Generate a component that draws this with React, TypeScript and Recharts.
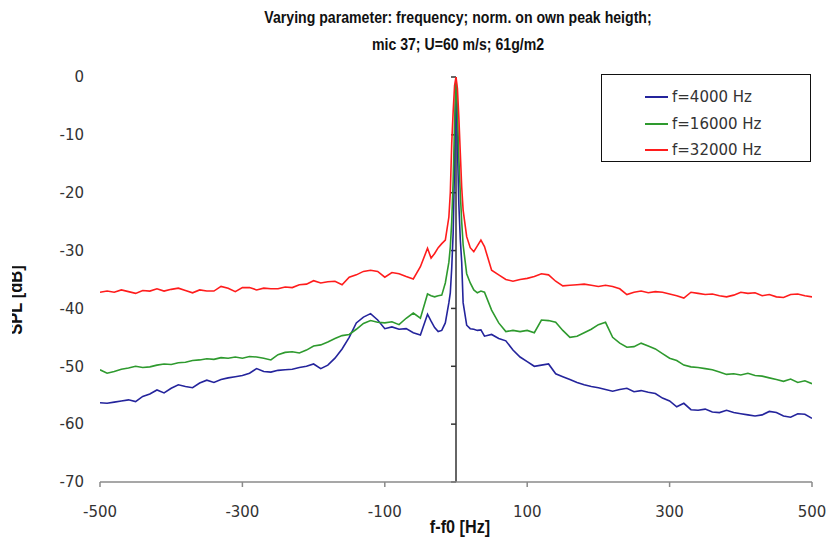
import React from "react";
import { LineChart, Line, XAxis, YAxis, ReferenceLine } from "recharts";

const freq = [
  -500, -490, -480, -470, -460, -450, -440, -430, -420, -410,
  -400, -390, -380, -370, -360, -350, -340, -330, -320, -310,
  -300, -290, -280, -270, -260, -250, -240, -230, -220, -210,
  -200, -190, -180, -170, -160, -150, -140, -130, -120, -110,
  -100, -90, -80, -70, -60, -50, -40,
  -35, -30, -25, -20, -15, -10, -8, -6, -4, -2, 0, 2, 4, 6, 8, 10, 15, 20, 25, 30, 35, 40,
  50, 60, 70, 80, 90, 100, 110, 120, 130, 140,
  150, 160, 170, 180, 190, 200, 210, 220, 230, 240,
  250, 260, 270, 280, 290, 300, 310, 320, 330, 340,
  350, 360, 370, 380, 390, 400, 410, 420, 430, 440,
  450, 460, 470, 480, 490, 500,
];

const f4000 = [
  -56.3, -56.4, -56.2, -56.0, -55.8, -56.1, -55.2, -54.8, -54.1, -54.6,
  -53.8, -53.2, -53.5, -53.7, -52.9, -52.4, -52.8, -52.3, -52.0, -51.8,
  -51.6, -51.2, -50.4, -50.9, -51.0, -50.7, -50.6, -50.5, -50.2, -50.0,
  -49.6, -50.4, -49.8, -48.6, -47.0, -45.0, -42.5, -41.5, -40.9, -42.0,
  -43.5, -43.2, -43.6, -43.5, -44.2, -44.6, -41.0,
  -42.2, -43.3, -44.0, -43.8, -42.5, -39.0, -37.3, -33, -27, -15, 0, -12, -22, -28, -32, -39, -42.9, -43.5, -43.6, -43.8, -43.7, -44.8,
  -44.5, -45.2, -45.6, -47.2, -48.4, -49.2, -50.0, -49.8, -49.6, -51.3,
  -51.8, -52.3, -52.8, -53.2, -53.5, -53.7, -54.0, -54.3, -54.0, -53.8,
  -54.4, -54.2, -54.5, -54.7, -55.5, -56.0, -57.0, -56.4, -57.5, -57.6,
  -57.4, -57.9, -58.0, -57.6, -58.0, -58.2, -58.4, -58.6, -58.4, -57.8,
  -58.0, -58.6, -58.8, -58.2, -58.3, -59.0,
];

const f16000 = [
  -50.6, -51.2, -50.9, -50.5, -50.3, -50.0, -50.2, -50.1, -49.8, -49.6,
  -49.7, -49.4, -49.3, -49.0, -48.9, -48.7, -48.8, -48.5, -48.6, -48.4,
  -48.6, -48.3, -48.4, -48.6, -48.9, -48.0, -47.6, -47.5, -47.7, -47.2,
  -46.5, -46.3, -45.8, -45.2, -44.7, -44.5, -43.6, -42.6, -42.1, -42.4,
  -42.5, -42.3, -42.8, -41.7, -40.8, -41.7, -37.5,
  -37.8, -38.0, -37.8, -37.7, -35.6, -32, -29.4, -25, -18, -8, 0, -6, -14, -20, -25, -29, -34, -35.6, -36.8, -37.3, -37.0, -37.2,
  -40.3, -42.5, -44.0, -43.8, -44.0, -43.8, -44.2, -42.0, -42.1, -42.4,
  -43.8, -45.0, -44.8, -44.2, -43.6, -42.8, -42.4, -45.0, -46.0, -46.7,
  -46.6, -46.0, -46.5, -47.0, -47.8, -48.6, -49.0, -49.8, -50.1, -50.2,
  -50.4, -50.6, -51.0, -51.4, -51.3, -51.5, -51.2, -51.6, -51.7, -52.0,
  -52.3, -52.6, -52.2, -52.8, -52.5, -53.0,
];

const f32000 = [
  -37.2, -37.0, -37.2, -36.8, -37.1, -37.4, -36.9, -37.0, -36.6, -37.0,
  -36.7, -36.5, -36.9, -37.3, -36.8, -37.0, -37.0, -36.2, -36.5, -37.1,
  -36.4, -36.4, -36.8, -36.5, -36.6, -36.6, -36.3, -36.4, -35.9, -35.8,
  -35.2, -35.6, -35.4, -35.3, -35.9, -34.6, -34.2, -33.6, -33.4, -33.6,
  -34.6, -33.8, -34.0, -34.5, -34.9, -32.8, -29.6,
  -31.3, -30.5, -29.5, -28.8, -28.2, -24.2, -20, -11.4, -6, -1.5, 0, -2, -7, -13, -19, -23, -27.6, -29.5, -30.2, -29.2, -28.2, -29.3,
  -33.4, -34.2, -35.0, -35.3, -35.0, -34.8, -34.5, -34.0, -34.2, -35.3,
  -36.1, -36.0, -35.9, -35.8, -36.0, -36.2, -36.0, -36.2, -36.6, -37.6,
  -37.2, -37.0, -37.3, -37.1, -37.2, -37.5, -37.8, -38.2, -37.2, -37.4,
  -37.6, -37.5, -37.8, -38.0, -37.7, -37.2, -37.4, -37.3, -37.8, -37.6,
  -38.0, -38.1, -37.6, -37.5, -37.8, -38.0,
];

const xTicks = [-500, -300, -100, 100, 300, 500];
const yTicks = [0, -10, -20, -30, -40, -50, -60, -70];
const seriesNames = ["f=4000 Hz", "f=16000 Hz", "f=32000 Hz"];
const seriesKeys = ["s4000", "s16000", "s32000"];
const colors = ["#24249c", "#2e9a2e", "#ff1c1c"];
const titleLines = [
  "Varying parameter: frequency; norm. on own peak heigth;",
  "mic 37; U=60 m/s; 61g/m2",
];
const xLabel = "f-f0 [Hz]";
const yLabel = "SPL [dB]";

const data = freq.map((f, i) => ({
  f,
  s4000: f4000[i],
  s16000: f16000[i],
  s32000: f32000[i],
}));

const boldFont = "'Liberation Sans', Arial, sans-serif";
const tickFont = "'DejaVu Sans', Verdana, sans-serif";

export default function App() {
  return (
    <div
      style={{
        position: "absolute",
        left: 0,
        top: 0,
        width: 829,
        height: 540,
        background: "#ffffff",
        overflow: "hidden",
      }}
    >
      <LineChart
        width={829}
        height={540}
        data={data}
        margin={{ top: 77, right: 17, bottom: 0, left: 0 }}
      >
        <XAxis
          dataKey="f"
          type="number"
          domain={[-500, 500]}
          ticks={xTicks}
          allowDataOverflow
          axisLine={{ stroke: "#8a8a8a", strokeWidth: 1.5 }}
          tickLine={{ stroke: "#8a8a8a", strokeWidth: 1.5 }}
          tickSize={5}
          tickMargin={19}
          tick={{ fill: "#333", fontSize: 15, fontFamily: tickFont }}
          height={58}
        />
        <YAxis
          type="number"
          domain={[-70, 0]}
          ticks={yTicks}
          allowDataOverflow
          axisLine={false}
          tickLine={false}
          tickSize={6}
          tickMargin={10}
          width={100}
          tick={{ fill: "#333", fontSize: 15, fontFamily: tickFont }}
        />
        <ReferenceLine x={0} stroke="#333" strokeWidth={1.5} />
        {yTicks.map((v) => (
          <ReferenceLine
            key={"yt" + v}
            segment={[
              { x: -7, y: v },
              { x: 0, y: v },
            ]}
            stroke="#333"
            strokeWidth={1.5}
          />
        ))}
        {seriesKeys.map((k, i) => (
          <Line
            key={k}
            type="linear"
            dataKey={k}
            name={seriesNames[i]}
            stroke={colors[i]}
            strokeWidth={1.6}
            dot={false}
            isAnimationActive={false}
          />
        ))}
      </LineChart>

      {titleLines.map((t, i) => (
        <div
          key={t}
          style={{
            position: "absolute",
            left: 458,
            top: 18 + i * 27,
            transform: "translate(-50%, -50%) scaleX(0.83)",
            fontFamily: boldFont,
            fontWeight: "bold",
            fontSize: 17,
            lineHeight: "20px",
            color: "#111",
            whiteSpace: "nowrap",
          }}
        >
          {t}
        </div>
      ))}

      <div
        style={{
          position: "absolute",
          left: 460,
          top: 527,
          transform: "translate(-50%, -50%) scaleX(0.9)",
          fontFamily: boldFont,
          fontWeight: "bold",
          fontSize: 18,
          lineHeight: "20px",
          color: "#111",
          whiteSpace: "nowrap",
        }}
      >
        {xLabel}
      </div>

      <div
        style={{
          position: "absolute",
          left: 12,
          top: 200,
          width: 30,
          height: 200,
          overflow: "hidden",
        }}
      >
        <div
          style={{
            position: "absolute",
            left: 4,
            top: 100,
            transform: "translate(-50%, -50%) rotate(-90deg) scaleX(0.92)",
            fontFamily: boldFont,
            fontWeight: "bold",
            fontSize: 18,
            lineHeight: "20px",
            color: "#111",
            whiteSpace: "nowrap",
          }}
        >
          {yLabel}
        </div>
      </div>

      <div
        style={{
          position: "absolute",
          left: 601,
          top: 74,
          width: 210,
          height: 88,
          border: "1px solid #111",
          background: "#fff",
          boxSizing: "border-box",
        }}
      >
        {seriesNames.map((n, i) => (
          <div
            key={n}
            style={{
              position: "absolute",
              left: 43,
              top: 12 + i * 26.5,
              height: 20,
              display: "flex",
              alignItems: "center",
              fontFamily: tickFont,
              fontSize: 15,
              color: "#333",
              whiteSpace: "nowrap",
            }}
          >
            <span
              style={{
                display: "inline-block",
                width: 23,
                height: 2,
                background: colors[i],
                marginRight: 4,
              }}
            />
            {n}
          </div>
        ))}
      </div>
    </div>
  );
}
